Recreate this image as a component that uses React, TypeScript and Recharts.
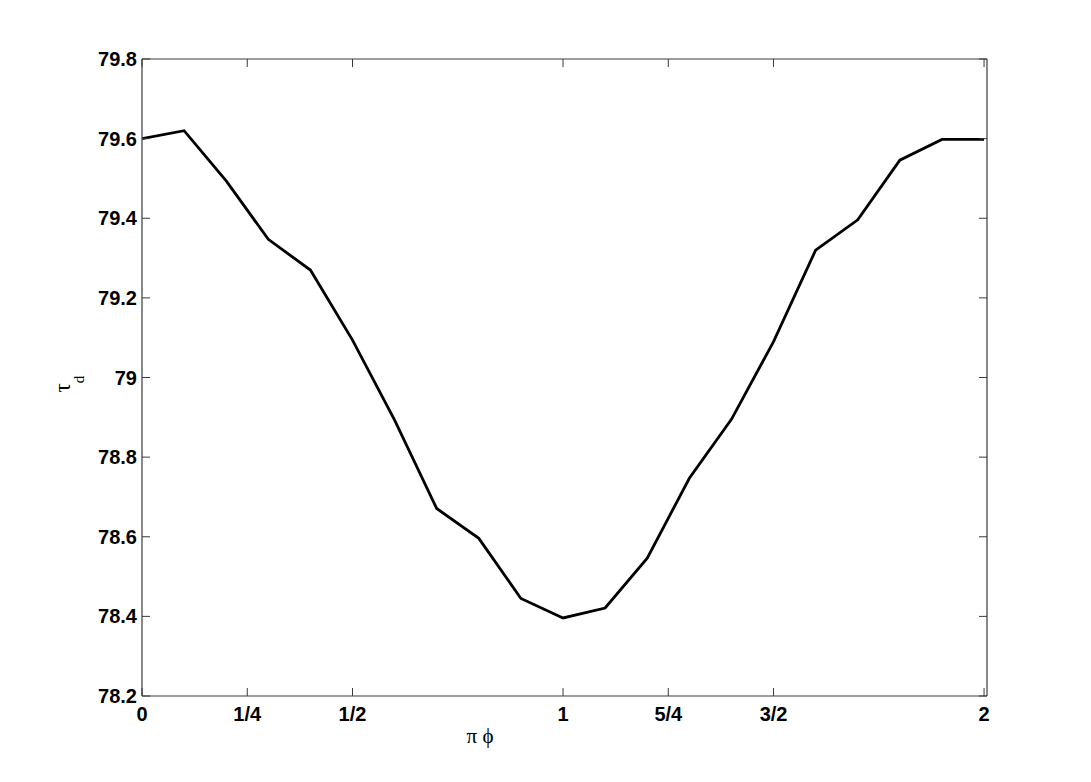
import React from 'react';
import { LineChart, Line, XAxis, YAxis, Label } from 'recharts';

const phiValues = [0, 0.1, 0.2, 0.3, 0.4, 0.5, 0.6, 0.7, 0.8, 0.9, 1.0, 1.1, 1.2, 1.3, 1.4, 1.5, 1.6, 1.7, 1.8, 1.9, 2.0];
const tauValues = [79.6, 79.62, 79.494, 79.347, 79.27, 79.094, 78.893, 78.671, 78.596, 78.445, 78.396, 78.421, 78.546, 78.747, 78.895, 79.09, 79.32, 79.396, 79.546, 79.598, 79.598];
const xTicks = [0, 0.25, 0.5, 1, 1.25, 1.5, 2];
const xTickLabels = ['0', '1/4', '1/2', '1', '5/4', '3/2', '2'];
const yTicks = [78.2, 78.4, 78.6, 78.8, 79.0, 79.2, 79.4, 79.6, 79.8];

const data = phiValues.map((p, i) => ({ phi: p, tau: tauValues[i] }));

const AXIS_COLOR = '#3a3a3a';
const TICK_FONT = { fontFamily: '"Liberation Sans", Arial, sans-serif', fontWeight: 700, fontSize: 20, fill: '#000' };
const TICK_LEN = 8;

const BottomTick = (props: any) => {
  const { x, y, index } = props;
  return (
    <g>
      <line x1={x} x2={x} y1={y} y2={y - TICK_LEN} stroke={AXIS_COLOR} strokeWidth={1} />
      <text x={x} y={y + 25} textAnchor="middle" {...TICK_FONT}>{xTickLabels[index]}</text>
    </g>
  );
};

const TopTick = (props: any) => {
  const { x, y } = props;
  return <line x1={x} x2={x} y1={y} y2={y + TICK_LEN} stroke={AXIS_COLOR} strokeWidth={1} />;
};

const LeftTick = (props: any) => {
  const { x, y, payload } = props;
  const v = Math.round(payload.value * 10) / 10;
  return (
    <g>
      <line x1={x} x2={x + TICK_LEN} y1={y} y2={y} stroke={AXIS_COLOR} strokeWidth={1} />
      <text x={x - 5} y={y + 7} textAnchor="end" {...TICK_FONT}>{String(v)}</text>
    </g>
  );
};

const RightTick = (props: any) => {
  const { x, y } = props;
  return <line x1={x} x2={x - TICK_LEN} y1={y} y2={y} stroke={AXIS_COLOR} strokeWidth={1} />;
};

const XLabelContent = (props: any) => {
  const vb = props.viewBox || { x: 142, y: 696, width: 845, height: 50 };
  return (
    <text x={vb.x + 338} y={vb.y + 47} textAnchor="middle" fontFamily='"Liberation Serif", "Times New Roman", serif' fontSize={21} fill="#000">
      π ϕ
    </text>
  );
};

const YLabelContent = (props: any) => {
  const vb = props.viewBox || { x: 82, y: 59, width: 60, height: 637 };
  const tx = vb.x - 12;
  const ty = vb.y + vb.height / 2 + 15;
  return (
    <g transform={`translate(${tx}, ${ty}) rotate(-90)`}>
      <text x={0} y={0} fontFamily='"Liberation Serif", "Times New Roman", serif' fontSize={23} fill="#000">
        τ<tspan fontSize={15} dy={14}>d</tspan>
      </text>
    </g>
  );
};

export default function App() {
  return (
    <div style={{ position: 'absolute', left: 0, top: 0, width: 1091, height: 782, background: '#fff' }}>
      <LineChart width={1091} height={782} data={data} margin={{ top: 58, right: 103, bottom: 36, left: 82 }}>
        <XAxis
          xAxisId="bottom"
          dataKey="phi"
          type="number"
          domain={[0, 2.007]}
          ticks={xTicks}
          interval={0}
          allowDataOverflow
          orientation="bottom"
          height={50}
          tickSize={0}
          tickMargin={0}
          tickLine={false}
          axisLine={{ stroke: AXIS_COLOR, strokeWidth: 1.2 }}
          tick={<BottomTick />}
        >
          <Label content={<XLabelContent />} />
        </XAxis>
        <XAxis
          xAxisId="top"
          dataKey="phi"
          type="number"
          domain={[0, 2.007]}
          ticks={xTicks}
          interval={0}
          allowDataOverflow
          orientation="top"
          height={1}
          tickSize={0}
          tickMargin={0}
          tickLine={false}
          axisLine={{ stroke: AXIS_COLOR, strokeWidth: 1.2 }}
          tick={<TopTick />}
        />
        <YAxis
          yAxisId="left"
          type="number"
          domain={[78.2, 79.8]}
          ticks={yTicks}
          interval={0}
          allowDataOverflow
          orientation="left"
          width={60}
          tickSize={0}
          tickMargin={0}
          tickLine={false}
          axisLine={{ stroke: AXIS_COLOR, strokeWidth: 1.2 }}
          tick={<LeftTick />}
        >
          <Label content={<YLabelContent />} />
        </YAxis>
        <YAxis
          yAxisId="right"
          type="number"
          domain={[78.2, 79.8]}
          ticks={yTicks}
          interval={0}
          allowDataOverflow
          orientation="right"
          width={1}
          tickSize={0}
          tickMargin={0}
          tickLine={false}
          axisLine={{ stroke: AXIS_COLOR, strokeWidth: 1.2 }}
          tick={<RightTick />}
        />
        <Line
          xAxisId="bottom"
          yAxisId="left"
          type="linear"
          dataKey="tau"
          stroke="#000"
          strokeWidth={2.8}
          dot={false}
          activeDot={false}
          isAnimationActive={false}
        />
      </LineChart>
    </div>
  );
}
